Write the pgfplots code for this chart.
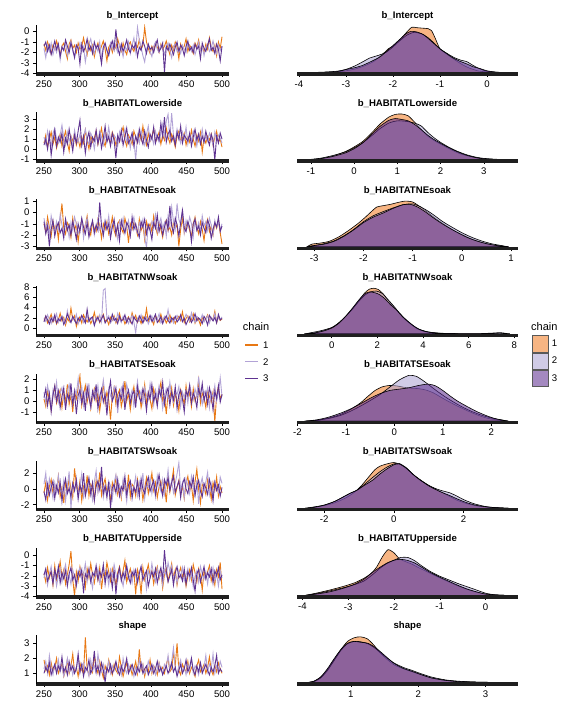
\documentclass[border=0pt]{standalone}
\usepackage{fontspec}
\setmainfont{Liberation Sans}
\usepackage{pgfplots}
\pgfplotsset{compat=1.18}
\definecolor{tA}{RGB}{232,120,20}
\definecolor{tB}{RGB}{178,163,214}
\definecolor{tC}{RGB}{94,50,145}
\definecolor{dA}{RGB}{240,120,30}
\definecolor{dB}{RGB}{170,160,210}
\definecolor{dC}{RGB}{90,40,140}
\pgfplotsset{
  /pgfplots/table/tr/.style={header=false, row sep=\\, y index=0, x expr=250+\coordindex*2.52525},
  common/.style={scale only axis, axis on top, tick align=outside, major tick length=3pt,
    axis line style={line width=0.5pt, black},
    tick style={black, line width=0.5pt},
    x axis line style={line width=3.4pt, black!88},
    tick label style={font=\fontsize{9.6}{11}\selectfont},
    /pgf/number format/assume math mode=true,
    title style={font=\bfseries\fontsize{9.6}{11}\selectfont, at={(0.5,1)}, anchor=base, yshift=0pt},
    height=49pt},
  trace/.style={common, width=193pt, xmin=238.8, xmax=509.8, xtick={250,300,350,400,450,500},
    axis x line*=bottom, axis y line*=left},
  dens/.style={common, width=221pt, ymin=-0.03, ymax=1.04, axis x line*=bottom, axis y line=none, ytick=\empty},
  lA/.style={color=tA, line width=0.9pt},
  lB/.style={color=tB, line width=0.9pt},
  lC/.style={color=tC, line width=0.9pt},
  fA/.style={fill=dA, fill opacity=0.55, draw=black, line width=0.6pt, smooth, tension=0.4},
  fB/.style={fill=dB, fill opacity=0.55, draw=black, line width=0.6pt, smooth, tension=0.4},
  fC/.style={fill=dC, fill opacity=0.55, draw=black, line width=0.6pt, smooth, tension=0.4},
}
\begin{document}
\begin{tikzpicture}[x=1pt,y=1pt]
\useasboundingbox (0,0) rectangle (576,720);
% ================= Row 1
\begin{axis}[trace, at={(36pt,646pt)}, anchor=south west, ymin=-4.05, ymax=0.62, ytick={-4,-3,-2,-1,0}, title={b\_Intercept}]
\addplot[lA] table[tr]{-1.2\\-1.8\\-1.0\\-1.6\\-2.1\\-1.3\\-1.7\\-0.9\\-1.5\\-2.3\\-1.4\\-1.1\\-1.9\\-2.6\\-1.2\\-0.8\\-1.6\\-1.3\\-2.0\\-1.1\\-1.7\\-1.4\\-0.6\\-1.5\\-2.2\\-1.0\\-1.8\\-1.3\\-2.4\\-1.6\\-1.1\\-1.9\\-1.4\\-0.9\\-1.7\\-2.8\\-1.5\\-1.2\\-2.0\\-1.3\\-1.6\\-0.7\\-1.4\\-1.9\\-1.1\\-1.8\\-2.2\\-1.3\\-1.0\\-1.6\\-1.9\\-1.2\\-1.5\\-0.8\\-1.7\\-1.3\\0.4\\-1.0\\-1.6\\-2.1\\-1.4\\-1.8\\-1.1\\-1.5\\-2.0\\-1.2\\-1.7\\-1.4\\-0.9\\-1.6\\-2.2\\-1.3\\-1.8\\-1.0\\-1.5\\-2.6\\-1.2\\-1.7\\-1.4\\-0.7\\-1.9\\-1.3\\-1.6\\-2.1\\-1.1\\-1.5\\-0.8\\-1.8\\-1.4\\-2.0\\-1.2\\-1.7\\-0.6\\-1.5\\-1.9\\-1.3\\-2.3\\-1.0\\-1.6\\-0.5\\};
\addplot[lB] table[tr]{-1.6\\-2.5\\-1.3\\-1.9\\-1.1\\-2.2\\-1.5\\-2.0\\-1.2\\-2.7\\-1.4\\-1.8\\-1.0\\-2.3\\-1.6\\-0.9\\-1.9\\-2.4\\-1.3\\-1.7\\-1.1\\-2.0\\-1.5\\-2.9\\-1.8\\-1.2\\-0.7\\-1.6\\-2.1\\-1.4\\-1.9\\-1.0\\-2.6\\-1.5\\-1.3\\-1.8\\-2.2\\-1.1\\-1.7\\-0.9\\-1.5\\-2.0\\-1.2\\-1.6\\-2.4\\-1.4\\-1.8\\-1.0\\-2.1\\-1.3\\-0.6\\-1.9\\0.4\\-0.8\\-1.5\\-2.3\\-2.9\\-1.7\\-1.2\\-1.9\\-2.4\\-1.4\\-1.0\\-1.7\\-2.0\\-1.3\\-1.6\\-2.2\\-1.5\\-1.1\\-1.8\\-2.5\\-1.4\\-1.2\\-1.9\\-1.6\\-2.1\\-1.3\\-1.7\\-2.0\\-1.1\\-1.5\\-1.9\\-1.3\\-2.2\\-1.6\\-1.0\\-1.8\\-1.4\\-2.3\\-1.5\\-1.2\\-1.9\\-1.6\\-0.9\\-1.7\\-2.1\\-1.3\\-1.8\\-1.4\\};
\addplot[lC] table[tr]{-1.4\\-1.0\\-1.9\\-1.3\\-2.2\\-1.6\\-0.9\\-1.7\\-1.2\\-2.4\\-1.5\\-1.8\\-0.8\\-1.4\\-2.0\\-1.1\\-1.7\\-2.5\\-1.3\\-1.6\\-3.1\\-1.2\\-1.9\\-1.5\\-0.7\\-1.8\\-1.4\\-2.1\\-1.0\\-1.6\\-1.3\\-2.0\\-3.1\\-1.5\\-1.1\\-1.8\\-2.3\\-1.4\\-0.9\\-1.7\\0.2\\-1.6\\-2.2\\-1.2\\-1.9\\-1.4\\-0.8\\-1.7\\-2.0\\-1.3\\-1.6\\-1.1\\-2.4\\-1.5\\-1.8\\-0.9\\-1.4\\-2.1\\-1.2\\-1.7\\-1.5\\-2.0\\-1.3\\-0.8\\-1.9\\-1.6\\-1.1\\-3.9\\-1.4\\-1.8\\-1.2\\-1.7\\-2.2\\-1.5\\-1.0\\-1.9\\-1.3\\-1.6\\-2.3\\-1.4\\-0.9\\-1.8\\-1.5\\-2.0\\-1.2\\-1.7\\-1.4\\-2.6\\-1.1\\-1.6\\-1.9\\-1.3\\-0.7\\-1.8\\-1.5\\-2.1\\-1.2\\-1.7\\-2.8\\-1.4\\};
\end{axis}
\begin{axis}[dens, at={(297pt,646pt)}, anchor=south west, xmin=-4.04, xmax=0.66, xtick={-4,-3,-2,-1,0}, title={b\_Intercept}]
\addplot[fA] coordinates {(-3.85,0) (-3.5,0.005) (-3.2,0.015) (-3.0,0.04) (-2.8,0.08) (-2.6,0.15) (-2.4,0.25) (-2.2,0.42) (-2.1,0.52) (-2.0,0.58) (-1.85,0.72) (-1.71,0.88) (-1.6,0.99) (-1.48,0.98) (-1.36,0.97) (-1.25,0.96) (-1.18,0.92) (-1.1,0.75) (-1.0,0.52) (-0.85,0.40) (-0.7,0.29) (-0.55,0.19) (-0.4,0.11) (-0.2,0.04) (0.0,0.015) (0.25,0.004) (0.47,0)} \closedcycle;
\addplot[fB] coordinates {(-3.85,0) (-3.5,0.01) (-3.2,0.03) (-3.0,0.07) (-2.8,0.15) (-2.6,0.26) (-2.49,0.32) (-2.3,0.38) (-2.15,0.44) (-2.0,0.56) (-1.85,0.70) (-1.7,0.82) (-1.55,0.88) (-1.4,0.85) (-1.25,0.76) (-1.1,0.62) (-1.0,0.52) (-0.85,0.42) (-0.7,0.33) (-0.55,0.27) (-0.43,0.24) (-0.3,0.16) (-0.15,0.08) (0.0,0.03) (0.25,0.005) (0.47,0)} \closedcycle;
\addplot[fC] coordinates {(-3.85,0) (-3.5,0.005) (-3.2,0.02) (-2.99,0.07) (-2.8,0.11) (-2.64,0.16) (-2.45,0.25) (-2.28,0.34) (-2.15,0.45) (-2.0,0.59) (-1.85,0.73) (-1.72,0.85) (-1.62,0.90) (-1.5,0.89) (-1.35,0.83) (-1.2,0.70) (-1.0,0.52) (-0.85,0.41) (-0.72,0.32) (-0.58,0.25) (-0.43,0.19) (-0.3,0.13) (-0.15,0.09) (0.0,0.04) (0.2,0.01) (0.47,0)} \closedcycle;
\end{axis}
% ================= Row 2
\begin{axis}[trace, at={(36pt,558.86pt)}, anchor=south west, ymin=-1.2, ymax=3.7, ytick={-1,0,1,2,3}, title={b\_HABITATLowerside}]
\addplot[lA] table[tr]{0.6\\1.4\\0.2\\1.0\\1.7\\0.5\\1.2\\0.1\\0.9\\1.5\\0.3\\1.1\\1.8\\0.7\\-0.2\\1.3\\0.8\\1.6\\0.4\\1.0\\0.2\\1.2\\0.6\\1.9\\0.9\\0.0\\1.4\\0.7\\1.1\\1.8\\0.5\\1.3\\2.1\\0.8\\0.3\\1.5\\1.0\\0.6\\1.7\\1.2\\0.4\\1.1\\0.7\\1.6\\2.2\\0.9\\0.3\\1.4\\1.0\\0.5\\1.8\\1.2\\0.6\\1.5\\0.9\\2.3\\1.1\\0.4\\1.6\\0.8\\1.3\\2.0\\0.7\\1.1\\1.7\\0.5\\1.4\\0.9\\2.1\\1.2\\0.6\\1.5\\1.0\\0.2\\1.3\\1.8\\0.8\\1.1\\1.6\\0.4\\1.2\\0.7\\1.9\\1.0\\0.3\\1.4\\0.8\\1.7\\-0.3\\1.1\\0.6\\1.3\\0.9\\1.5\\0.4\\1.2\\1.8\\0.7\\1.0\\0.2\\};
\addplot[lB] table[tr]{1.2\\0.5\\1.8\\0.9\\0.3\\1.6\\2.1\\1.0\\0.6\\1.4\\2.4\\1.1\\0.4\\1.7\\0.8\\1.3\\0.2\\1.9\\1.0\\0.7\\1.5\\0.3\\1.2\\2.0\\0.9\\0.5\\1.6\\1.1\\0.0\\1.3\\0.8\\1.8\\1.2\\0.4\\1.5\\0.9\\2.2\\1.0\\0.6\\1.4\\1.1\\0.3\\1.7\\0.8\\1.3\\2.0\\0.7\\1.2\\0.1\\1.6\\0.9\\-1.1\\1.4\\0.6\\1.9\\1.0\\0.4\\1.5\\2.3\\0.8\\1.2\\0.5\\1.8\\1.1\\0.7\\1.6\\2.5\\1.3\\2.8\\3.5\\1.0\\3.6\\1.4\\0.8\\2.0\\1.2\\0.6\\1.7\\1.0\\2.2\\0.5\\1.4\\0.9\\1.8\\1.2\\0.3\\1.5\\1.0\\2.0\\0.7\\1.3\\0.8\\1.6\\1.1\\0.4\\1.7\\0.9\\1.4\\1.1\\0.6\\};
\addplot[lC] table[tr]{0.4\\1.0\\0.0\\1.5\\-0.6\\0.8\\1.9\\0.3\\1.2\\0.7\\1.6\\-0.3\\1.1\\0.5\\2.0\\0.9\\-0.2\\1.4\\0.6\\1.8\\2.9\\0.4\\1.3\\-0.4\\1.0\\1.7\\0.2\\1.2\\0.8\\1.9\\0.5\\1.5\\0.1\\1.1\\2.3\\0.7\\1.3\\0.3\\1.6\\0.9\\-0.9\\1.4\\0.8\\1.9\\0.4\\1.2\\2.1\\0.6\\1.0\\1.6\\0.3\\1.3\\0.7\\2.0\\1.1\\0.5\\1.8\\0.9\\0.2\\1.5\\1.0\\2.2\\0.6\\1.4\\0.9\\2.6\\1.2\\3.2\\0.7\\1.5\\1.9\\0.8\\1.3\\0.4\\1.7\\1.0\\2.3\\0.6\\1.4\\1.1\\0.8\\1.6\\0.3\\1.2\\2.0\\0.9\\1.5\\0.5\\1.3\\0.7\\1.8\\1.0\\0.4\\1.5\\0.9\\-1.1\\1.3\\0.6\\1.6\\1.0\\};
\end{axis}
\begin{axis}[dens, at={(297pt,558.86pt)}, anchor=south west, xmin=-1.32, xmax=3.79, xtick={-1,0,1,2,3}, title={b\_HABITATLowerside}]
\addplot[fA] coordinates {(-1.1,0) (-0.8,0.02) (-0.5,0.08) (-0.2,0.18) (0.0,0.28) (0.2,0.40) (0.4,0.58) (0.6,0.78) (0.8,0.93) (0.95,0.99) (1.1,1.0) (1.25,0.96) (1.4,0.82) (1.55,0.66) (1.7,0.52) (1.85,0.42) (2.0,0.34) (2.2,0.24) (2.4,0.15) (2.6,0.09) (2.8,0.05) (3.0,0.02) (3.3,0.005) (3.55,0)} \closedcycle;
\addplot[fB] coordinates {(-1.1,0) (-0.8,0.03) (-0.5,0.09) (-0.2,0.17) (0.0,0.26) (0.2,0.37) (0.4,0.52) (0.6,0.68) (0.8,0.80) (1.0,0.85) (1.2,0.84) (1.4,0.80) (1.55,0.74) (1.7,0.60) (1.85,0.48) (2.0,0.38) (2.2,0.27) (2.4,0.18) (2.6,0.11) (2.8,0.06) (3.0,0.03) (3.3,0.01) (3.55,0)} \closedcycle;
\addplot[fC] coordinates {(-1.1,0) (-0.8,0.02) (-0.5,0.07) (-0.2,0.15) (0.0,0.24) (0.2,0.37) (0.4,0.55) (0.6,0.73) (0.8,0.86) (0.95,0.90) (1.1,0.88) (1.25,0.85) (1.4,0.77) (1.55,0.66) (1.7,0.54) (1.85,0.44) (2.0,0.36) (2.2,0.26) (2.4,0.17) (2.6,0.10) (2.8,0.05) (3.0,0.02) (3.3,0.005) (3.55,0)} \closedcycle;
\end{axis}
% ================= Row 3
\begin{axis}[trace, at={(36pt,471.72pt)}, anchor=south west, ymin=-3.18, ymax=1.18, ytick={-3,-2,-1,0,1}, title={b\_HABITATNEsoak}]
\addplot[lA] table[tr]{-1.0\\-1.7\\-0.4\\-1.3\\-2.1\\-0.8\\-1.5\\-1.1\\-2.4\\-0.6\\0.8\\-1.4\\-1.9\\-0.9\\-1.2\\-2.2\\-0.5\\-1.6\\-1.0\\-2.6\\-1.3\\-0.7\\-1.8\\-1.1\\-0.3\\-1.5\\-2.0\\-0.9\\-1.4\\-1.7\\-0.6\\-1.2\\-2.3\\-1.0\\-1.5\\-0.8\\-1.9\\-1.3\\-0.4\\-1.6\\-2.1\\-1.0\\-0.7\\-1.4\\-1.8\\-0.5\\-1.2\\-2.7\\-1.0\\-1.5\\-0.9\\-1.3\\-2.0\\-0.6\\-1.6\\-1.1\\-2.4\\-0.8\\-1.4\\-1.0\\-1.7\\-0.3\\-1.2\\-1.9\\-0.9\\-1.5\\-2.2\\-1.1\\-0.7\\-1.6\\-1.3\\-2.0\\-0.8\\-1.4\\-1.1\\-3.0\\-1.5\\-0.5\\-1.8\\-1.2\\-0.9\\-1.6\\-2.1\\-1.0\\-0.4\\-1.3\\-1.9\\-0.8\\-1.5\\-2.5\\-1.1\\-0.6\\-1.7\\-1.2\\-2.0\\-0.9\\-1.4\\-0.7\\-1.8\\-2.8\\};
\addplot[lB] table[tr]{-0.5\\-1.4\\-0.9\\-2.0\\-0.3\\-1.2\\-1.7\\-0.8\\-1.5\\-0.2\\-1.1\\-1.8\\-0.6\\-1.3\\-2.2\\-0.9\\-1.6\\-0.4\\-1.0\\-1.9\\-1.4\\-0.7\\-2.3\\-1.1\\-0.5\\-1.7\\-1.2\\-0.8\\-2.0\\-1.3\\-0.6\\-1.5\\-1.0\\-2.1\\-0.7\\-1.4\\-0.3\\-1.8\\-1.1\\-0.9\\-1.6\\-2.4\\-0.8\\-1.2\\-0.5\\-1.9\\-1.3\\-0.7\\-2.0\\-1.0\\-0.4\\-1.5\\-1.8\\-0.9\\-1.3\\-0.6\\-2.2\\-3.1\\-1.1\\-1.6\\-0.8\\-1.3\\-0.2\\-1.7\\-1.0\\-0.5\\-1.4\\-0.9\\-2.1\\-0.3\\-1.2\\0.5\\-0.8\\-1.5\\0.8\\-0.6\\-1.1\\0.3\\-1.8\\-0.7\\-1.3\\-0.4\\-1.0\\-2.2\\-0.6\\-1.5\\-0.9\\-1.7\\-0.3\\-1.2\\-0.8\\-1.6\\-0.5\\-1.1\\-2.0\\-0.7\\-1.3\\-0.9\\-1.5\\-1.0\\};
\addplot[lC] table[tr]{-0.8\\-1.9\\-1.2\\-3.0\\-1.5\\-0.7\\-2.1\\-1.3\\-0.9\\-1.8\\-1.4\\-2.3\\-0.6\\-1.6\\-1.1\\-2.0\\-0.8\\-1.5\\-2.4\\-1.0\\-1.7\\-0.5\\-1.3\\-1.9\\-0.9\\-2.2\\-1.4\\-0.7\\-1.8\\-1.1\\-1.6\\0.9\\-1.2\\-2.0\\-0.8\\-1.5\\-1.0\\-2.3\\-1.3\\-0.6\\-1.9\\-1.1\\-2.5\\-0.7\\-1.4\\-1.8\\-0.9\\-1.2\\-2.1\\-0.4\\-1.5\\-1.0\\-1.7\\-2.2\\-0.8\\-1.3\\-0.6\\-1.9\\-1.1\\-1.6\\-2.4\\-0.9\\-1.4\\-0.2\\-1.7\\-1.0\\-2.0\\-1.3\\-0.7\\-1.5\\0.6\\-1.2\\-1.8\\-0.5\\-1.1\\-2.1\\-0.9\\0.2\\-1.4\\-1.7\\-0.8\\-1.3\\-2.6\\-1.0\\-0.6\\-1.6\\-1.2\\-2.0\\-0.9\\-1.4\\-1.8\\-0.7\\-1.1\\-2.3\\-1.5\\-0.9\\-1.3\\-0.4\\-1.7\\-1.2\\};
\end{axis}
\begin{axis}[dens, at={(297pt,471.72pt)}, anchor=south west, xmin=-3.35, xmax=1.14, xtick={-3,-2,-1,0,1}, title={b\_HABITATNEsoak}]
\addplot[fA] coordinates {(-3.15,0) (-3.05,0.06) (-2.9,0.08) (-2.7,0.12) (-2.5,0.22) (-2.3,0.36) (-2.1,0.52) (-1.95,0.66) (-1.85,0.76) (-1.73,0.87) (-1.6,0.90) (-1.45,0.93) (-1.3,0.97) (-1.15,1.0) (-1.0,0.98) (-0.85,0.88) (-0.7,0.76) (-0.55,0.63) (-0.4,0.52) (-0.2,0.38) (0.0,0.27) (0.2,0.17) (0.4,0.10) (0.6,0.05) (0.8,0.02) (0.95,0)} \closedcycle;
\addplot[fB] coordinates {(-3.15,0) (-3.0,0.03) (-2.8,0.07) (-2.6,0.13) (-2.4,0.24) (-2.2,0.38) (-2.0,0.55) (-1.8,0.68) (-1.6,0.77) (-1.4,0.85) (-1.2,0.92) (-1.0,0.94) (-0.85,0.88) (-0.7,0.79) (-0.55,0.68) (-0.4,0.56) (-0.2,0.43) (0.0,0.31) (0.2,0.21) (0.4,0.13) (0.6,0.07) (0.8,0.03) (0.95,0)} \closedcycle;
\addplot[fC] coordinates {(-3.15,0) (-3.0,0.03) (-2.8,0.06) (-2.6,0.12) (-2.4,0.23) (-2.2,0.37) (-2.0,0.53) (-1.8,0.65) (-1.6,0.74) (-1.4,0.84) (-1.2,0.92) (-1.05,0.93) (-0.9,0.87) (-0.75,0.77) (-0.6,0.65) (-0.45,0.54) (-0.3,0.44) (-0.1,0.32) (0.1,0.21) (0.3,0.13) (0.5,0.07) (0.7,0.03) (0.95,0)} \closedcycle;
\end{axis}
% ================= Row 4
\begin{axis}[trace, at={(36pt,384.58pt)}, anchor=south west, ymin=-1.42, ymax=8.14, ytick={0,2,4,6,8}, title={b\_HABITATNWsoak}]
\addplot[lA] table[tr]{1.5\\2.3\\1.0\\1.8\\2.7\\1.2\\2.0\\0.8\\1.6\\2.9\\1.4\\2.1\\0.6\\1.9\\1.3\\3.9\\1.7\\2.4\\0.3\\1.5\\2.2\\1.0\\2.6\\1.8\\1.2\\2.0\\0.9\\1.6\\3.1\\1.4\\2.3\\1.1\\1.9\\2.7\\1.3\\1.7\\0.7\\2.1\\1.5\\2.4\\1.0\\1.8\\2.9\\1.4\\2.0\\0.8\\1.6\\2.2\\1.2\\3.0\\1.7\\2.5\\1.1\\1.9\\0.9\\2.3\\1.5\\3.8\\1.3\\2.0\\1.6\\0.7\\2.4\\1.8\\1.2\\2.7\\1.4\\2.1\\1.0\\1.7\\2.6\\1.3\\2.0\\0.9\\1.8\\2.3\\1.5\\3.2\\1.1\\1.9\\2.4\\1.2\\1.7\\2.8\\1.0\\2.1\\1.6\\0.6\\2.2\\1.4\\1.9\\2.6\\1.3\\2.0\\1.7\\3.3\\1.1\\2.2\\1.5\\1.8\\};
\addplot[lB] table[tr]{2.0\\1.3\\2.6\\1.7\\0.9\\2.2\\1.5\\2.8\\1.1\\1.9\\2.4\\1.6\\1.0\\3.4\\1.8\\1.2\\2.1\\1.4\\2.7\\0.8\\1.7\\2.3\\1.1\\1.9\\2.5\\1.3\\2.0\\1.6\\0.7\\2.2\\1.5\\2.6\\1.2\\7.4\\7.7\\1.8\\2.4\\1.0\\1.6\\2.1\\1.3\\2.9\\1.7\\1.1\\2.3\\1.5\\2.0\\0.9\\1.8\\2.5\\1.2\\-0.9\\1.9\\1.4\\2.6\\1.1\\1.7\\2.2\\0.8\\1.6\\2.4\\1.3\\2.0\\1.7\\2.8\\1.0\\1.5\\2.3\\1.8\\3.6\\1.4\\2.1\\1.0\\1.9\\2.5\\1.6\\2.2\\1.2\\1.8\\2.7\\2.0\\1.4\\3.0\\1.7\\1.1\\2.3\\1.9\\1.5\\2.6\\1.2\\1.8\\2.4\\1.0\\2.1\\1.6\\2.9\\1.3\\2.0\\1.7\\2.2\\};
\addplot[lC] table[tr]{1.2\\2.4\\1.6\\0.8\\2.0\\1.3\\2.6\\1.0\\1.8\\1.4\\2.2\\0.7\\1.5\\2.8\\1.9\\1.1\\2.3\\1.6\\0.9\\2.0\\1.4\\2.5\\1.8\\1.0\\3.7\\1.3\\1.9\\2.2\\0.5\\1.7\\2.1\\1.2\\1.8\\2.5\\1.0\\1.6\\2.0\\1.3\\2.7\\1.5\\1.9\\0.9\\2.3\\1.4\\1.7\\2.6\\1.1\\2.0\\1.5\\0.8\\2.2\\1.6\\1.2\\2.4\\1.8\\1.0\\2.1\\1.4\\1.7\\2.5\\1.3\\1.9\\2.7\\1.1\\1.6\\2.2\\0.9\\1.8\\2.4\\1.5\\1.0\\2.0\\1.6\\2.3\\1.2\\1.7\\2.6\\1.3\\1.9\\0.7\\1.5\\2.2\\1.1\\1.8\\2.8\\1.4\\2.0\\1.6\\0.9\\2.3\\1.7\\0.6\\2.5\\1.9\\1.4\\2.1\\1.0\\2.7\\1.6\\1.9\\};
\end{axis}
\begin{axis}[dens, at={(297pt,384.58pt)}, anchor=south west, xmin=-1.52, xmax=8.16, xtick={0,2,4,6,8}, title={b\_HABITATNWsoak},
  legend style={at={(axis description cs:1.062,0)}, anchor=north west, draw=none, fill=none, inner sep=0pt, outer sep=0pt, row sep=0pt,
    font=\fontsize{9.6}{11}\selectfont, nodes={inner sep=0pt, minimum height=16.7pt}, /tikz/every odd column/.append style={column sep=3.5pt}},
  legend cell align=left,
  legend image code/.code={\draw[#1, draw=black!65, line width=0.6pt] (0pt,-8.3pt) rectangle (16pt,8.3pt);}]
\addplot[fA] coordinates {(-1.2,0) (-0.8,0.02) (-0.4,0.07) (0.0,0.14) (0.3,0.24) (0.6,0.38) (0.9,0.55) (1.2,0.74) (1.45,0.90) (1.65,0.98) (1.85,1.0) (2.05,0.97) (2.25,0.88) (2.5,0.72) (2.75,0.58) (3.0,0.43) (3.25,0.30) (3.5,0.20) (3.8,0.10) (4.2,0.04) (4.7,0.015) (5.5,0.005) (6.5,0.002) (7.8,0)} \closedcycle;
\addlegendentry{1}
\addplot[fB] coordinates {(-1.2,0) (-0.9,0.03) (-0.5,0.07) (0.0,0.14) (0.3,0.24) (0.6,0.38) (0.9,0.54) (1.2,0.72) (1.45,0.85) (1.7,0.92) (1.95,0.94) (2.2,0.89) (2.45,0.76) (2.7,0.62) (2.95,0.47) (3.2,0.34) (3.5,0.21) (3.8,0.11) (4.2,0.05) (4.7,0.02) (5.5,0.01) (6.5,0.01) (7.0,0.02) (7.4,0.03) (7.8,0)} \closedcycle;
\addlegendentry{2}
\addplot[fC] coordinates {(-1.2,0) (-0.8,0.02) (-0.4,0.06) (0.0,0.13) (0.3,0.23) (0.6,0.38) (0.9,0.56) (1.2,0.75) (1.45,0.88) (1.67,0.92) (1.9,0.90) (2.1,0.86) (2.35,0.76) (2.6,0.63) (2.85,0.52) (3.1,0.38) (3.4,0.25) (3.7,0.14) (4.0,0.07) (4.4,0.03) (5.0,0.01) (6.0,0.003) (7.8,0)} \closedcycle;
\addlegendentry{3}
\end{axis}
% ================= Row 5
\begin{axis}[trace, at={(36pt,297.44pt)}, anchor=south west, ymin=-1.96, ymax=2.49, ytick={-2,-1,0,1,2}, title={b\_HABITATSEsoak}]
\addplot[lA] table[tr]{0.2\\-0.5\\0.9\\0.1\\-0.8\\0.6\\1.3\\-0.2\\0.4\\1.0\\-0.6\\0.7\\0.0\\1.5\\-0.3\\0.5\\-1.0\\0.8\\0.2\\1.2\\2.3\\-0.4\\0.6\\1.4\\-0.1\\0.9\\-0.7\\0.3\\1.1\\0.0\\0.7\\-0.9\\0.4\\1.6\\-0.2\\0.8\\0.1\\-1.7\\0.5\\1.2\\-0.3\\0.6\\1.0\\-0.5\\0.3\\1.8\\0.0\\0.7\\-0.8\\0.4\\1.3\\-0.1\\0.6\\0.9\\-0.6\\0.2\\1.5\\-0.3\\0.8\\0.1\\-0.7\\1.1\\0.4\\-0.2\\0.9\\1.7\\0.0\\0.5\\-1.2\\0.7\\0.3\\1.2\\-0.4\\0.6\\0.1\\-0.9\\1.0\\0.4\\-0.3\\1.4\\0.2\\0.8\\-0.5\\1.1\\0.0\\0.6\\1.9\\-0.2\\0.7\\0.3\\-0.6\\1.0\\0.4\\-0.1\\0.8\\-1.9\\0.5\\1.3\\0.2\\0.6\\};
\addplot[lB] table[tr]{0.8\\-0.2\\1.4\\0.5\\-0.6\\1.0\\0.3\\1.7\\-0.1\\0.7\\1.2\\0.2\\-0.5\\0.9\\1.5\\0.4\\-0.3\\1.1\\0.6\\2.0\\0.1\\1.3\\-0.4\\0.8\\0.3\\1.6\\-0.8\\0.6\\1.0\\0.2\\1.4\\-0.2\\0.7\\1.9\\0.4\\-0.6\\1.1\\0.5\\0.0\\1.3\\0.9\\-1.1\\0.6\\1.2\\0.2\\-0.3\\1.5\\0.8\\0.4\\1.0\\-0.5\\0.7\\1.8\\0.3\\0.9\\-0.2\\1.2\\0.5\\0.1\\1.6\\0.6\\-0.4\\1.0\\0.3\\1.4\\0.8\\-0.7\\0.5\\1.1\\0.2\\1.7\\0.4\\-0.1\\0.9\\0.6\\1.3\\-0.5\\0.8\\0.3\\1.0\\-0.2\\1.5\\0.7\\0.1\\1.1\\0.4\\2.2\\0.6\\-0.3\\0.9\\0.5\\1.2\\-0.6\\0.8\\0.3\\1.4\\0.0\\0.7\\2.1\\0.4\\};
\addplot[lC] table[tr]{0.3\\1.1\\-0.4\\0.7\\-1.0\\0.5\\1.4\\0.0\\0.9\\-0.6\\0.4\\1.2\\-0.8\\0.6\\0.1\\1.6\\-0.3\\0.8\\-1.2\\0.5\\1.0\\-0.2\\0.7\\-0.9\\1.3\\0.3\\-0.5\\0.9\\0.2\\1.5\\-0.7\\0.4\\1.1\\-0.1\\0.6\\-1.3\\0.8\\1.8\\0.0\\0.5\\1.2\\-0.4\\0.7\\0.2\\1.4\\-0.8\\0.5\\1.0\\-0.2\\0.6\\0.9\\-0.6\\1.3\\0.3\\-0.1\\1.1\\0.5\\-0.9\\0.8\\0.2\\1.5\\0.0\\0.6\\-0.5\\1.0\\0.4\\1.7\\-0.3\\0.7\\1.2\\-0.4\\0.8\\0.1\\1.3\\-0.7\\0.6\\1.0\\0.2\\-1.0\\0.9\\0.5\\1.4\\-0.2\\0.7\\0.3\\-0.6\\1.1\\0.4\\1.6\\0.0\\0.8\\-0.3\\1.2\\0.5\\-0.8\\0.9\\0.2\\1.4\\-0.1\\0.6\\};
\end{axis}
\begin{axis}[dens, at={(297pt,297.44pt)}, anchor=south west, xmin=-2.01, xmax=2.55, xtick={-2,-1,0,1,2}, title={b\_HABITATSEsoak}]
\addplot[fA] coordinates {(-1.85,0) (-1.6,0.02) (-1.35,0.07) (-1.1,0.15) (-0.9,0.26) (-0.7,0.40) (-0.55,0.54) (-0.4,0.67) (-0.25,0.75) (-0.1,0.78) (0.05,0.77) (0.2,0.74) (0.35,0.72) (0.5,0.71) (0.65,0.68) (0.8,0.62) (0.95,0.53) (1.1,0.44) (1.3,0.33) (1.5,0.23) (1.7,0.14) (1.9,0.07) (2.1,0.03) (2.35,0)} \closedcycle;
\addplot[fB] coordinates {(-1.85,0) (-1.6,0.02) (-1.35,0.06) (-1.1,0.13) (-0.9,0.22) (-0.7,0.33) (-0.5,0.45) (-0.3,0.58) (-0.1,0.74) (0.1,0.90) (0.3,1.0) (0.45,0.98) (0.6,0.88) (0.75,0.76) (0.9,0.64) (1.05,0.53) (1.2,0.43) (1.4,0.31) (1.6,0.21) (1.8,0.13) (2.0,0.07) (2.2,0.03) (2.35,0)} \closedcycle;
\addplot[fC] coordinates {(-1.85,0) (-1.6,0.03) (-1.35,0.09) (-1.1,0.18) (-0.9,0.27) (-0.7,0.38) (-0.5,0.50) (-0.3,0.60) (-0.1,0.67) (0.1,0.70) (0.3,0.73) (0.5,0.78) (0.7,0.81) (0.85,0.77) (1.0,0.67) (1.15,0.55) (1.3,0.44) (1.5,0.32) (1.7,0.21) (1.9,0.12) (2.1,0.05) (2.35,0)} \closedcycle;
\end{axis}
% ================= Row 6
\begin{axis}[trace, at={(36pt,210.3pt)}, anchor=south west, ymin=-2.63, ymax=3.57, ytick={-2,0,2}, title={b\_HABITATSWsoak}]
\addplot[lA] table[tr]{-0.5\\0.8\\-1.4\\0.3\\1.2\\-0.7\\0.5\\-0.2\\1.6\\-1.0\\0.2\\-1.8\\0.9\\-0.3\\1.4\\0.0\\-1.1\\2.6\\0.4\\-0.6\\1.0\\-1.5\\0.3\\-0.4\\1.7\\-0.9\\0.6\\0.1\\-1.3\\1.1\\-0.2\\2.1\\-0.8\\0.5\\1.3\\-0.5\\0.2\\-1.6\\0.8\\-0.1\\1.5\\-0.7\\0.4\\-1.2\\0.9\\0.0\\-0.4\\1.8\\-1.0\\0.6\\0.3\\-0.9\\1.2\\-0.3\\0.7\\-1.4\\0.1\\1.4\\-0.6\\0.5\\2.0\\-0.2\\0.8\\-1.1\\0.3\\1.0\\-0.5\\0.6\\-1.7\\1.3\\-0.4\\0.9\\2.4\\-0.8\\0.2\\1.1\\-0.6\\0.4\\-1.2\\0.7\\1.6\\-0.3\\0.5\\-1.5\\0.9\\2.5\\-0.1\\-1.8\\0.6\\0.2\\-0.7\\1.2\\0.4\\-1.3\\0.8\\-0.2\\1.5\\-0.9\\0.3\\-0.5\\};
\addplot[lB] table[tr]{0.6\\2.0\\-0.9\\1.3\\0.2\\-1.2\\0.8\\-0.4\\1.7\\0.1\\-0.6\\1.1\\-1.5\\0.4\\2.2\\-2.6\\0.7\\-0.3\\1.4\\-0.8\\0.3\\1.9\\-1.0\\0.5\\-0.2\\1.2\\0.0\\-1.4\\0.9\\2.3\\-0.5\\0.6\\1.5\\-1.1\\0.2\\-0.7\\1.0\\0.4\\-1.3\\0.8\\1.8\\-0.2\\0.5\\-0.9\\1.3\\0.1\\-1.6\\0.7\\1.1\\-0.4\\0.3\\1.6\\-0.8\\0.9\\-0.1\\2.0\\-1.2\\0.5\\0.2\\1.4\\-0.6\\0.8\\-1.0\\1.7\\0.4\\-0.3\\1.2\\-0.7\\0.6\\2.4\\0.0\\1.0\\-0.5\\0.7\\1.9\\3.3\\-0.2\\0.8\\-1.1\\1.3\\0.4\\-0.6\\1.6\\0.2\\-0.9\\1.1\\-1.9\\0.5\\1.4\\-0.3\\0.9\\2.1\\-0.7\\0.6\\-1.2\\1.0\\0.3\\-0.4\\1.5\\0.7\\};
\addplot[lC] table[tr]{-0.3\\-1.4\\0.6\\-0.8\\0.2\\1.0\\-1.2\\0.4\\-0.5\\0.9\\-1.6\\0.3\\1.3\\-0.6\\0.1\\-1.0\\0.7\\-0.2\\1.1\\-1.3\\0.5\\-0.4\\2.0\\-0.9\\0.2\\1.4\\-0.7\\0.8\\-1.5\\0.3\\1.0\\-0.1\\2.8\\-0.6\\0.4\\-1.1\\0.9\\-2.4\\0.1\\0.6\\-0.5\\1.2\\-0.9\\0.3\\-0.2\\1.6\\-0.8\\0.5\\1.0\\-1.2\\0.2\\-0.4\\0.9\\-1.0\\1.3\\0.0\\-0.6\\0.7\\1.5\\-0.3\\0.4\\1.1\\-0.7\\0.6\\1.8\\0.2\\-0.9\\1.2\\0.5\\1.4\\-0.2\\0.8\\1.6\\-0.4\\0.3\\1.0\\-1.1\\0.6\\1.3\\0.0\\-0.6\\0.9\\0.2\\1.5\\-0.8\\0.4\\1.1\\-0.3\\-1.0\\0.7\\0.1\\-0.7\\1.2\\0.3\\-1.5\\0.8\\-0.2\\0.5\\-0.9\\0.2\\};
\end{axis}
\begin{axis}[dens, at={(297pt,210.3pt)}, anchor=south west, xmin=-2.78, xmax=3.56, xtick={-2,0,2}, title={b\_HABITATSWsoak}]
\addplot[fA] coordinates {(-2.55,0) (-2.3,0.02) (-2.0,0.06) (-1.7,0.12) (-1.4,0.22) (-1.15,0.34) (-0.95,0.48) (-0.75,0.66) (-0.55,0.84) (-0.4,0.92) (-0.2,0.97) (0.0,1.0) (0.2,0.95) (0.4,0.84) (0.6,0.71) (0.8,0.60) (1.0,0.50) (1.2,0.42) (1.4,0.34) (1.6,0.26) (1.8,0.18) (2.1,0.10) (2.4,0.05) (2.8,0.02) (3.3,0)} \closedcycle;
\addplot[fB] coordinates {(-2.55,0) (-2.3,0.03) (-2.0,0.07) (-1.7,0.15) (-1.45,0.25) (-1.25,0.33) (-1.05,0.40) (-0.85,0.52) (-0.6,0.68) (-0.4,0.80) (-0.2,0.90) (0.0,0.97) (0.15,0.98) (0.35,0.89) (0.55,0.74) (0.75,0.62) (1.0,0.50) (1.2,0.43) (1.4,0.38) (1.6,0.34) (1.8,0.27) (2.0,0.19) (2.3,0.10) (2.7,0.03) (3.3,0)} \closedcycle;
\addplot[fC] coordinates {(-2.55,0) (-2.3,0.02) (-2.0,0.07) (-1.7,0.15) (-1.45,0.25) (-1.25,0.33) (-1.05,0.40) (-0.85,0.50) (-0.6,0.62) (-0.4,0.75) (-0.2,0.86) (0.0,0.95) (0.15,0.97) (0.35,0.88) (0.55,0.74) (0.75,0.62) (1.0,0.49) (1.2,0.41) (1.4,0.34) (1.6,0.28) (1.8,0.21) (2.1,0.12) (2.4,0.06) (2.8,0.02) (3.3,0)} \closedcycle;
\end{axis}
% ================= Row 7
\begin{axis}[trace, at={(36pt,123.16pt)}, anchor=south west, ymin=-4.05, ymax=0.73, ytick={-4,-3,-2,-1,0}, title={b\_HABITATUpperside}]
\addplot[lA] table[tr]{-1.8\\-2.6\\-1.2\\-2.2\\-1.5\\-2.9\\-1.0\\-2.4\\-1.7\\-0.6\\-2.1\\-1.4\\-2.8\\-1.9\\-0.9\\0.4\\-2.3\\-4.0\\-1.6\\-2.5\\-1.1\\-2.0\\-1.7\\-3.1\\-1.3\\-2.2\\-0.8\\-1.9\\-2.7\\-1.5\\-2.4\\-1.2\\-3.3\\-1.8\\-2.1\\-0.7\\-1.6\\-2.5\\-1.3\\-2.0\\-2.9\\-1.7\\-1.1\\-2.3\\-1.5\\-0.5\\-2.6\\-1.9\\-1.3\\-2.2\\-1.6\\-3.8\\-1.4\\-2.0\\-3.8\\-1.2\\-2.4\\-1.7\\-0.9\\-2.1\\-1.5\\-2.8\\-1.8\\-1.1\\-2.3\\-1.6\\-3.2\\-1.9\\-1.3\\-2.5\\-1.7\\-0.8\\-2.2\\-1.4\\-2.9\\-1.8\\-1.2\\-2.1\\-1.6\\-3.0\\-2.0\\-1.4\\-2.4\\-0.9\\-1.7\\-2.6\\-1.3\\-1.9\\-3.4\\-1.5\\-2.2\\-1.6\\-1.0\\-2.5\\-1.8\\-2.9\\-1.4\\-2.1\\-0.7\\-3.3\\};
\addplot[lB] table[tr]{-2.2\\-1.5\\-2.9\\-1.8\\-1.1\\-2.5\\-1.7\\-3.0\\-2.0\\-1.3\\-2.6\\-1.6\\-0.9\\-2.3\\-1.9\\-2.8\\-1.4\\-2.1\\-3.1\\-1.7\\-1.2\\-2.4\\-1.8\\-0.8\\-2.6\\-1.5\\-2.2\\-3.2\\-1.6\\-2.0\\-1.3\\-2.7\\-1.9\\-1.1\\-2.4\\-1.7\\-2.9\\-1.4\\-2.1\\-0.9\\-1.8\\-2.5\\-1.5\\-2.2\\-3.0\\-1.6\\-1.2\\-2.3\\-1.9\\-2.7\\-1.4\\-2.0\\-2.8\\-1.6\\-1.1\\-2.4\\-1.8\\-3.3\\-1.5\\-2.1\\-0.8\\-1.9\\-2.6\\-1.3\\-2.2\\-1.7\\-2.9\\-1.4\\-2.0\\-0.7\\-1.6\\-1.0\\-2.3\\-1.8\\-2.7\\-1.5\\-2.1\\-1.2\\-2.5\\-1.9\\-1.3\\-2.4\\-1.7\\-3.1\\-2.0\\-1.5\\-2.6\\-1.1\\-1.8\\-2.3\\-1.6\\-2.8\\-1.4\\-2.0\\-1.2\\-2.5\\-1.8\\-3.0\\-1.5\\-2.2\\};
\addplot[lC] table[tr]{-1.9\\-1.3\\-2.5\\-2.0\\-1.6\\-2.8\\-1.4\\-2.2\\-1.1\\-2.7\\-1.7\\-2.3\\-1.5\\-3.0\\-1.8\\-1.2\\-2.4\\-1.9\\-2.9\\-1.6\\-2.1\\-1.4\\-3.7\\-1.8\\-2.2\\-1.3\\-2.6\\-1.7\\-2.0\\-1.0\\-2.4\\-1.6\\-2.1\\-0.9\\-2.8\\-1.5\\-2.2\\-1.8\\-3.2\\-1.4\\-3.8\\-1.9\\-1.2\\-2.5\\-1.7\\-2.3\\-1.0\\-2.1\\-2.7\\-1.6\\-2.0\\-1.4\\-2.6\\-1.8\\-1.1\\-2.4\\-1.9\\-1.5\\-3.0\\-2.2\\-1.6\\-2.1\\-1.3\\-2.7\\-1.8\\-1.2\\-2.3\\0.5\\-1.5\\-2.6\\-2.0\\-1.4\\-2.9\\-1.7\\-1.1\\-2.2\\-1.9\\-2.5\\-1.3\\-2.8\\-1.6\\-2.0\\-1.2\\-2.4\\-3.5\\-1.8\\-1.4\\-2.6\\-1.9\\-1.1\\-2.3\\-1.7\\-2.1\\-1.3\\-2.7\\-1.5\\-2.0\\-1.2\\-2.4\\-1.9\\};
\end{axis}
\begin{axis}[dens, at={(297pt,123.16pt)}, anchor=south west, xmin=-4.12, xmax=0.71, xtick={-4,-3,-2,-1,0}, title={b\_HABITATUpperside}]
\addplot[fA] coordinates {(-3.95,0) (-3.7,0.05) (-3.4,0.12) (-3.1,0.20) (-2.85,0.28) (-2.65,0.38) (-2.5,0.48) (-2.38,0.62) (-2.25,0.85) (-2.13,1.0) (-2.0,0.93) (-1.88,0.80) (-1.75,0.74) (-1.6,0.68) (-1.45,0.60) (-1.3,0.53) (-1.1,0.43) (-0.9,0.34) (-0.7,0.25) (-0.5,0.17) (-0.3,0.10) (-0.1,0.05) (0.15,0.015) (0.5,0)} \closedcycle;
\addplot[fB] coordinates {(-3.95,0) (-3.7,0.04) (-3.4,0.10) (-3.1,0.17) (-2.85,0.24) (-2.65,0.32) (-2.45,0.47) (-2.3,0.60) (-2.15,0.70) (-2.0,0.77) (-1.85,0.83) (-1.7,0.83) (-1.55,0.76) (-1.4,0.65) (-1.2,0.52) (-1.0,0.42) (-0.8,0.34) (-0.6,0.26) (-0.4,0.19) (-0.2,0.12) (0.0,0.05) (0.2,0.015) (0.5,0)} \closedcycle;
\addplot[fC] coordinates {(-3.95,0) (-3.7,0.03) (-3.4,0.08) (-3.1,0.16) (-2.85,0.25) (-2.65,0.36) (-2.48,0.50) (-2.3,0.62) (-2.15,0.71) (-2.0,0.77) (-1.87,0.79) (-1.72,0.77) (-1.55,0.71) (-1.4,0.62) (-1.2,0.50) (-1.0,0.40) (-0.8,0.31) (-0.6,0.22) (-0.4,0.14) (-0.2,0.08) (0.0,0.03) (0.25,0.01) (0.5,0)} \closedcycle;
\end{axis}
% ================= Row 8
\begin{axis}[trace, at={(36pt,36.02pt)}, anchor=south west, ymin=0.29, ymax=3.56, ytick={1,2,3}, title={shape}]
\addplot[lA] table[tr]{1.9\\1.2\\1.5\\0.9\\1.7\\1.1\\1.4\\2.0\\1.0\\1.3\\1.6\\0.8\\1.2\\1.9\\1.0\\1.5\\2.3\\1.1\\1.4\\0.8\\1.7\\1.2\\1.0\\3.4\\1.3\\0.9\\1.6\\1.1\\2.2\\1.4\\1.0\\1.8\\1.2\\0.7\\1.5\\1.1\\1.9\\1.3\\0.9\\1.6\\1.2\\1.0\\2.1\\1.4\\0.8\\1.3\\1.7\\1.1\\1.5\\0.9\\1.3\\1.8\\1.0\\2.6\\1.2\\1.6\\0.8\\1.4\\1.1\\1.9\\1.0\\1.5\\1.3\\0.9\\1.7\\1.2\\1.4\\1.0\\1.6\\2.0\\1.1\\1.3\\2.4\\1.5\\3.0\\1.2\\0.9\\1.6\\1.3\\1.1\\1.8\\1.0\\1.4\\1.2\\0.8\\1.5\\1.9\\1.1\\1.3\\1.6\\1.0\\1.4\\2.1\\1.2\\0.9\\1.5\\1.1\\1.7\\1.3\\1.0\\};
\addplot[lB] table[tr]{1.3\\1.8\\1.0\\2.2\\1.4\\0.9\\1.6\\1.2\\1.9\\1.1\\1.5\\0.8\\1.3\\2.0\\1.1\\1.6\\0.9\\1.4\\1.2\\2.1\\1.0\\1.5\\1.7\\1.1\\1.3\\0.8\\1.9\\1.2\\1.5\\1.0\\2.3\\1.4\\1.1\\1.6\\0.9\\1.3\\1.8\\1.0\\1.5\\1.2\\1.7\\1.1\\1.4\\0.9\\2.0\\1.3\\1.0\\1.6\\1.2\\1.5\\0.8\\1.4\\1.1\\1.9\\1.3\\1.6\\1.0\\1.2\\1.8\\1.4\\1.1\\1.5\\0.9\\1.3\\1.7\\1.2\\1.0\\1.6\\1.4\\2.2\\1.2\\1.8\\2.7\\1.3\\1.0\\1.5\\1.9\\1.1\\1.4\\0.9\\1.6\\1.2\\2.0\\1.0\\1.5\\1.3\\0.9\\1.7\\1.2\\1.4\\2.2\\1.1\\1.6\\1.3\\2.3\\1.0\\1.5\\1.2\\1.8\\1.4\\};
\addplot[lC] table[tr]{1.0\\1.4\\1.1\\1.7\\0.9\\1.3\\1.6\\1.0\\1.5\\1.2\\2.1\\1.1\\1.4\\0.9\\1.8\\1.2\\1.5\\1.0\\1.3\\2.3\\1.1\\1.6\\0.8\\1.4\\1.2\\1.9\\1.0\\1.3\\2.5\\1.1\\1.5\\0.9\\1.7\\1.2\\0.4\\1.4\\1.1\\1.6\\1.0\\1.3\\1.8\\1.2\\0.9\\1.5\\1.1\\1.4\\2.0\\1.0\\1.3\\1.6\\1.2\\0.9\\1.4\\1.1\\1.7\\1.0\\1.3\\1.5\\0.9\\1.2\\1.6\\1.0\\1.3\\1.8\\1.1\\1.4\\0.9\\1.2\\1.5\\1.0\\1.3\\1.7\\1.1\\1.4\\0.8\\1.2\\1.6\\1.0\\1.3\\1.9\\1.1\\1.4\\2.0\\1.2\\0.9\\1.5\\1.1\\1.7\\1.0\\1.3\\1.6\\1.2\\0.9\\1.4\\1.1\\1.5\\2.2\\1.0\\1.3\\1.1\\};
\end{axis}
\begin{axis}[dens, at={(297pt,36.02pt)}, anchor=south west, xmin=0.20, xmax=3.48, xtick={1,2,3}, title={shape}]
\addplot[fA] coordinates {(0.35,0) (0.45,0.03) (0.55,0.12) (0.65,0.28) (0.75,0.50) (0.85,0.72) (0.95,0.90) (1.05,0.98) (1.14,1.0) (1.24,0.96) (1.34,0.82) (1.44,0.64) (1.55,0.49) (1.65,0.38) (1.78,0.30) (1.9,0.24) (2.05,0.17) (2.2,0.10) (2.4,0.05) (2.6,0.025) (2.9,0.01) (3.35,0)} \closedcycle;
\addplot[fB] coordinates {(0.35,0) (0.45,0.02) (0.55,0.10) (0.65,0.26) (0.75,0.48) (0.85,0.70) (0.95,0.85) (1.05,0.90) (1.15,0.89) (1.25,0.85) (1.35,0.76) (1.45,0.64) (1.55,0.52) (1.65,0.42) (1.78,0.33) (1.9,0.27) (2.05,0.19) (2.2,0.12) (2.4,0.06) (2.6,0.03) (2.9,0.01) (3.35,0)} \closedcycle;
\addplot[fC] coordinates {(0.35,0) (0.45,0.03) (0.55,0.12) (0.65,0.30) (0.75,0.52) (0.85,0.72) (0.95,0.86) (1.05,0.90) (1.15,0.88) (1.25,0.86) (1.35,0.78) (1.45,0.66) (1.55,0.53) (1.65,0.41) (1.78,0.31) (1.9,0.25) (2.05,0.17) (2.2,0.10) (2.4,0.05) (2.6,0.02) (2.9,0.005) (3.35,0)} \closedcycle;
\end{axis}
% legend (trace chains) and legend titles
\node[anchor=base west, font=\fontsize{11}{13}\selectfont, inner sep=0pt] at (242.7,389.3) {chain};
\draw[color=tA, line width=1.3pt] (245,375) -- (258.3,375);
\draw[color=tB, line width=1.3pt] (245,358.3) -- (258.3,358.3);
\draw[color=tC, line width=1.3pt] (245,341.7) -- (258.3,341.7);
\node[anchor=west, font=\fontsize{9.6}{11}\selectfont, inner sep=0pt] at (263,375) {1};
\node[anchor=west, font=\fontsize{9.6}{11}\selectfont, inner sep=0pt] at (263,358.3) {2};
\node[anchor=west, font=\fontsize{9.6}{11}\selectfont, inner sep=0pt] at (263,341.7) {3};
\node[anchor=base west, font=\fontsize{11}{13}\selectfont, inner sep=0pt] at (531,389.3) {chain};
\end{tikzpicture}
\end{document}
